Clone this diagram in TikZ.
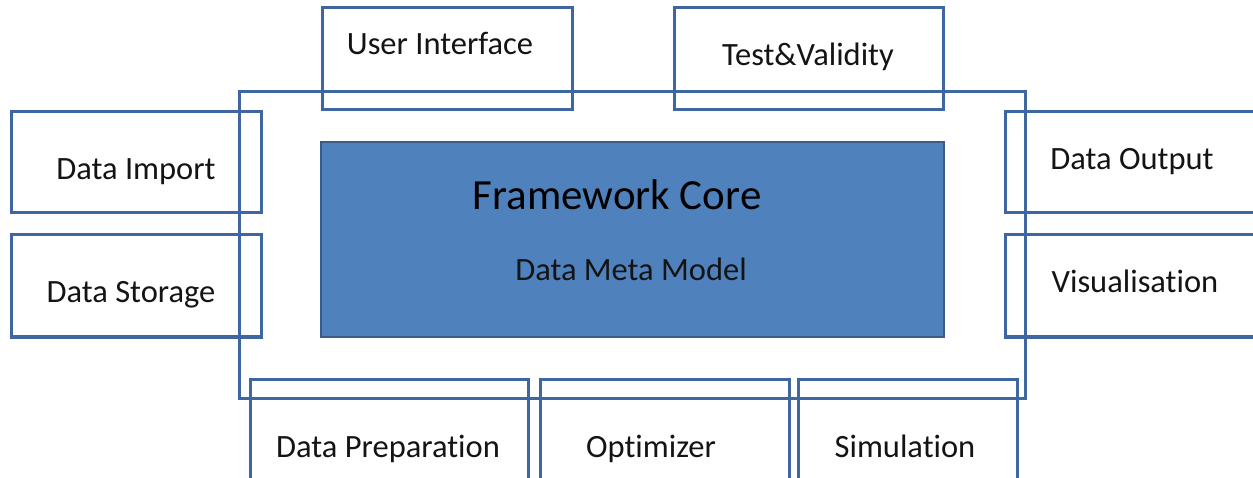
\documentclass[tikz,border=0pt]{standalone}
\usepackage{fontspec}
\setmainfont[Ligatures=NoCommon]{Carlito}
\definecolor{edge}{RGB}{62,102,160}
\definecolor{corefill}{RGB}{79,129,189}
\definecolor{coreedge}{RGB}{56,93,138}
\definecolor{ink}{RGB}{20,20,20}
\tikzset{
  module/.style={draw=edge, line width=3pt, rectangle, inner sep=0pt},
  lbl/.style={anchor=base, inner sep=0pt, text=ink, font=\fontsize{32.5}{36}\selectfont},
  corebox/.style={draw=coreedge, line width=2pt, fill=corefill, rectangle, inner sep=0pt},
  title/.style={anchor=base, inner sep=0pt, text=black, font=\fontsize{43}{48}\selectfont}
}
\begin{document}
\begin{tikzpicture}[x=1pt,y=-1pt]
\clip (0,0) rectangle (1253,478);
\fill[white] (0,0) rectangle (1253,478);

% framework frame
\node[module, minimum width=786pt, minimum height=307pt] (frame) at (632.5,245) {};

% surrounding modules
\node[module, minimum width=250pt, minimum height=102pt] (ui)   at (447,59) {};
\node[module, minimum width=269pt, minimum height=102pt] (test) at (808.5,59) {};
\node[module, minimum width=250pt, minimum height=101pt] (imp)  at (136,162.5) {};
\node[module, minimum width=250pt, minimum height=102pt] (sto)  at (136,286) {};
\node[module, minimum width=260pt, minimum height=101pt] (out)  at (1135,162.5) {};
\node[module, minimum width=260pt, minimum height=102pt] (vis)  at (1135,286) {};
\node[module, minimum width=278pt, minimum height=140pt] (prep) at (389,449) {};
\node[module, minimum width=249pt, minimum height=140pt] (opt)  at (664.5,449) {};
\node[module, minimum width=219pt, minimum height=140pt] (sim)  at (907.5,449) {};

% core
\node[corebox, minimum width=623pt, minimum height=195pt] (core) at (632.5,239.5) {};

% labels
\node[lbl] (uiT)   at (440,55)  {User Interface};
\node[lbl] (testT) at (808,66)  {Test\&Validity};
\node[lbl] (impT)  at (136,180) {Data Import};
\node[lbl] (stoT)  at (131,303) {Data Storage};
\node[lbl] (outT)  at (1132,170) {Data Output};
\node[lbl] (visT)  at (1135,293) {Visualisation};
\node[lbl] (prepT) at (388,457) {Data Preparation};
\node[lbl] (optT)  at (651,457) {Optimizer};
\node[lbl] (simT)  at (905,457) {Simulation};
\node[title] (coreT) at (617,210) {Framework Core};
\node[lbl] (metaT) at (631,281) {Data Meta Model};
\end{tikzpicture}
\end{document}
